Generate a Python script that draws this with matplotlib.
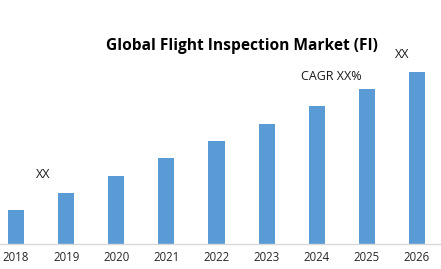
import matplotlib
matplotlib.use('Agg')
import matplotlib.pyplot as plt

# chart data (arbitrary units)
years = ['2018', '2019', '2020', '2021', '2022', '2023', '2024', '2025', '2026']
market_size = [34, 51, 68, 86, 103, 120, 138, 155, 172]

W, H = 441, 269
plt.rcParams['font.family'] = ['Open Sans', 'DejaVu Sans']

fig = plt.figure(figsize=(W / 100, H / 100), dpi=100)
# axes: bottom at baseline (y=244px), full width
ax = fig.add_axes([0, (H - 244) / H, 1, 244 / H])

x = range(len(years))
ax.bar(x, market_size, width=0.32, color='#5B9BD5')
ax.set_xlim(-0.32, 8.48)
ax.set_ylim(0, 244)

for s in ['top', 'right', 'left']:
    ax.spines[s].set_visible(False)
ax.spines['bottom'].set_color('#D9D9D9')
ax.spines['bottom'].set_linewidth(1)
ax.set_yticks([])
ax.set_xticks(list(x))
ax.set_xticklabels(years, fontsize=8.3, color='#262626')
ax.tick_params(axis='x', length=0, pad=5)

# title and annotations
fig.text(242 / W, 1 - 46 / H, 'Global Flight Inspection Market (FI)',
         ha='center', va='center', fontsize=11.2, fontweight='bold', color='black')
fig.text(43 / W, 1 - 175 / H, 'XX', ha='center', va='center', fontsize=9, color='#1a1a1a')
fig.text(331 / W, 1 - 76 / H, 'CAGR XX%', ha='center', va='center', fontsize=9, color='#1a1a1a')
fig.text(402 / W, 1 - 55 / H, 'XX', ha='center', va='center', fontsize=9, color='#1a1a1a')

fig.savefig('out.png', dpi=100, facecolor='white')
